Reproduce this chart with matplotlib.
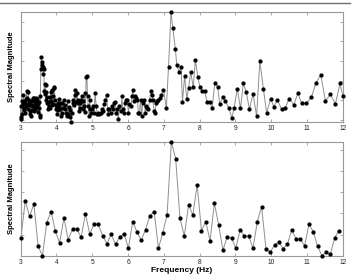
import numpy as np
import matplotlib
matplotlib.use('Agg')
import matplotlib.pyplot as plt
from matplotlib.lines import Line2D

plt.rcParams['font.family'] = ['Liberation Sans', 'DejaVu Sans']

# Espectro superior (muestreo denso en baja frecuencia)
f_top = [3.000, 3.012, 3.024, 3.036, 3.048, 3.060, 3.072, 3.084, 3.096, 3.108,
         3.120, 3.132, 3.144, 3.156, 3.168, 3.180, 3.192, 3.204, 3.216, 3.228,
         3.240, 3.252, 3.264, 3.276, 3.288, 3.300, 3.312, 3.324, 3.336, 3.348,
         3.360, 3.372, 3.384, 3.396, 3.408, 3.420, 3.432, 3.444, 3.456, 3.468,
         3.480, 3.492, 3.504, 3.516, 3.528, 3.540, 3.552, 3.564, 3.576, 3.588,
         3.600, 3.612, 3.624, 3.636, 3.648, 3.660, 3.672, 3.684, 3.696, 3.708,
         3.720, 3.735, 3.750, 3.765, 3.780, 3.795, 3.810, 3.825, 3.840, 3.855,
         3.870, 3.885, 3.900, 3.915, 3.930, 3.945, 3.960, 3.975, 3.990, 4.005,
         4.020, 4.035, 4.050, 4.065, 4.080, 4.095, 4.110, 4.130, 4.150, 4.170,
         4.190, 4.210, 4.230, 4.250, 4.270, 4.290, 4.310, 4.330, 4.350, 4.370,
         4.390, 4.410, 4.430, 4.450, 4.470, 4.490, 4.510, 4.530, 4.550, 4.570,
         4.590, 4.610, 4.630, 4.650, 4.670, 4.690, 4.710, 4.730, 4.750, 4.770,
         4.790, 4.810, 4.830, 4.850, 4.870, 4.890, 4.910, 4.930, 4.950, 4.970,
         4.995, 5.020, 5.050, 5.080, 5.110, 5.140, 5.170, 5.200, 5.235, 5.270,
         5.310, 5.340, 5.370, 5.400, 5.430, 5.450, 5.480, 5.520, 5.550, 5.570,
         5.610, 5.640, 5.670, 5.690, 5.730, 5.760, 5.800, 5.830, 5.850, 5.890,
         5.920, 5.950, 5.980, 6.010, 6.040, 6.080, 6.110, 6.130, 6.170, 6.200,
         6.230, 6.260, 6.290, 6.320, 6.350, 6.380, 6.410, 6.450, 6.480, 6.510,
         6.540, 6.570, 6.600, 6.640, 6.660, 6.690, 6.730, 6.760, 6.780, 6.820,
         6.850, 6.880, 6.930, 6.990, 7.070, 7.130, 7.200, 7.250, 7.320, 7.360,
         7.43, 7.48, 7.52, 7.58, 7.64, 7.69, 7.75, 7.82, 7.88, 7.95,
         8.01, 8.07, 8.14, 8.21, 8.28, 8.35, 8.42, 8.50, 8.56, 8.64,
         8.71, 8.81, 8.90, 8.96, 9.05, 9.14, 9.22, 9.30, 9.39, 9.49,
         9.59, 9.68, 9.78, 9.87, 9.98, 10.07, 10.17, 10.29, 10.39, 10.50,
         10.63, 10.74, 10.85, 10.98, 11.12, 11.24, 11.38, 11.51, 11.65, 11.79,
         11.92, 12.00]
mag_top = [0.23, 0.81, 0.15, 1.06, 0.40, 0.90, 1.39, 0.70, 1.05, 0.60,
           0.95, 0.45, 1.15, 0.75, 1.55, 0.85, 1.20, 0.65, 1.52, 0.95,
           1.10, 0.55, 0.85, 0.40, 0.30, 0.85, 1.05, 0.60, 1.22, 0.80,
           1.10, 0.55, 1.22, 0.90, 0.65, 1.05, 0.75, 1.20, 0.85, 1.15,
           0.50, 0.95, 0.70, 1.00, 0.35, 0.23, 1.30, 2.71, 3.28, 3.05,
           2.87, 2.75, 2.79, 2.45, 2.70, 1.55, 1.95, 1.40, 1.86, 1.10,
           1.50, 0.97, 1.25, 0.64, 1.00, 0.80, 1.25, 0.70, 1.50, 1.05,
           1.63, 0.85, 1.30, 0.90, 1.77, 1.72, 1.10, 0.64, 0.85, 0.40,
           0.75, 0.97, 0.60, 0.81, 1.15, 0.64, 0.95, 0.31, 0.48, 0.97,
           0.73, 1.14, 0.64, 0.85, 0.48, 0.31, 1.06, 0.40, 0.75, 0.25,
           0.60, 0.00, 0.48, 0.97, 1.14, 0.85, 1.63, 1.39, 1.00, 1.47,
           1.14, 0.97, 0.55, 0.97, 0.73, 1.14, 1.30, 0.64, 1.06, 0.80,
           1.47, 0.50, 2.26, 2.33, 1.30, 0.81, 0.31, 1.14, 0.64, 0.48,
           0.64, 0.81, 0.48, 1.47, 0.81, 0.40, 0.48, 0.40, 0.48, 0.64,
           0.56, 0.89, 1.14, 1.39, 0.64, 0.40, 0.64, 0.48, 0.81, 0.64,
           0.97, 1.04, 0.48, 0.64, 0.15, 0.81, 0.56, 1.30, 0.64, 0.48,
           0.97, 1.14, 1.14, 0.48, 0.89, 0.81, 1.30, 1.63, 1.06, 1.30,
           1.22, 1.14, 0.48, 0.48, 1.14, 0.31, 0.97, 1.14, 0.48, 0.81,
           0.73, 0.64, 1.14, 1.55, 1.39, 1.14, 0.56, 0.48, 0.97, 1.06,
           1.14, 1.22, 1.39, 1.63, 0.69, 2.79, 5.59, 4.77, 3.73, 2.90,
           2.54, 2.79, 1.02, 2.34, 1.17, 1.72, 2.52, 1.77, 3.14, 2.26,
           1.77, 1.55, 1.55, 1.01, 1.01, 0.71, 1.96, 1.80, 0.89, 1.25,
           1.07, 0.73, 0.20, 0.73, 1.67, 0.69, 1.96, 1.53, 0.64, 1.44,
           0.28, 3.09, 1.67, 0.45, 1.19, 0.78, 1.12, 0.64, 0.73, 1.19,
           0.87, 1.47, 0.94, 0.96, 1.25, 1.96, 2.41, 1.07, 1.40, 0.92,
           1.96, 1.30]

# Espectro inferior (bins equiespaciados)
f_bot = [3.01, 3.13, 3.25, 3.37, 3.49, 3.61, 3.73, 3.85, 3.97, 4.09,
         4.21, 4.33, 4.45, 4.57, 4.69, 4.81, 4.93, 5.05, 5.17, 5.29,
         5.41, 5.53, 5.65, 5.77, 5.89, 6.01, 6.13, 6.25, 6.37, 6.49,
         6.61, 6.73, 6.85, 6.97, 7.09, 7.21, 7.33, 7.45, 7.57, 7.69,
         7.81, 7.93, 8.05, 8.17, 8.29, 8.41, 8.53, 8.65, 8.77, 8.89,
         9.01, 9.13, 9.25, 9.37, 9.49, 9.61, 9.73, 9.85, 9.97, 10.09,
         10.21, 10.33, 10.45, 10.57, 10.69, 10.81, 10.93, 11.05, 11.17, 11.29,
         11.41, 11.53, 11.65, 11.77, 11.89]
mag_bot = [0.86, 2.59, 1.87, 2.44, 0.47, 0.00, 1.56, 2.09, 1.19, 0.61,
           1.79, 0.77, 1.27, 1.26, 0.88, 1.98, 1.04, 1.49, 1.49, 0.96,
           0.57, 1.02, 0.55, 0.90, 1.05, 0.36, 1.62, 1.12, 0.75, 1.24,
           1.90, 2.08, 0.36, 1.10, 1.93, 5.36, 4.58, 1.78, 0.94, 2.39,
           1.93, 3.35, 1.19, 1.62, 0.72, 2.48, 1.46, 0.27, 0.91, 0.83,
           0.36, 1.24, 0.94, 0.94, 0.36, 1.62, 2.31, 0.35, 0.17, 0.53,
           0.64, 0.35, 0.55, 1.23, 0.80, 0.80, 0.47, 1.49, 1.15, 0.47,
           0.02, 0.17, 0.09, 0.86, 1.19]

xticks = [3, 4, 5, 6, 7, 8, 9, 10, 11, 12]

fig = plt.figure(figsize=(3.55, 2.76), dpi=100)
ax1 = fig.add_axes([0.058, 0.558, 0.908, 0.399])
ax2 = fig.add_axes([0.058, 0.0725, 0.908, 0.413])

# linea gris del borde superior
fig.add_artist(Line2D([0.0, 0.985], [0.99, 0.99], color='#707070', lw=1.0))

for ax, f, m, yt in [(ax1, f_top, mag_top, np.arange(0.1, 5.2, 1.0)),
                     (ax2, f_bot, mag_bot, np.arange(0, 5.1, 1.0))]:
    ax.plot(f, m, '-', color='#8f8f8f', lw=0.7, clip_on=False, zorder=2)
    ax.plot(f, m, 'o', color='black', ms=2.8, mec='black', mew=0.2,
            clip_on=False, zorder=3)
    ax.set_xlim(3, 12)
    ax.set_ylim(min(m), max(m))
    ax.set_xticks(xticks)
    ax.set_yticks(yt)
    ax.set_yticklabels([])
    ax.tick_params(direction='in', length=2, width=0.5, colors='#888888',
                   labelcolor='#222222', labelsize=4.8, pad=2,
                   top=True, right=True)
    for s in ax.spines.values():
        s.set_color('#999999')
        s.set_linewidth(0.8)
    ax.set_ylabel('Spectral Magnitude', fontsize=5.5, fontweight='bold',
                  labelpad=2)

ax2.set_xlabel('Frequency (Hz)', fontsize=6, fontweight='bold', labelpad=1)

fig.savefig('out.png', dpi=100)
